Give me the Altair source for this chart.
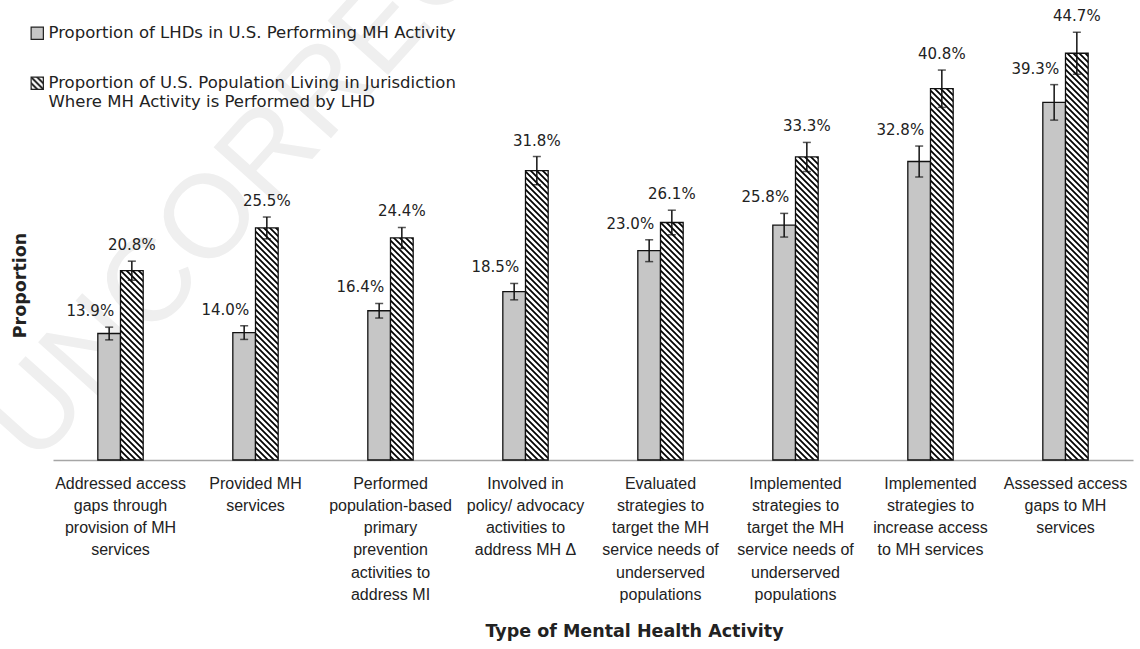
import altair as alt
import pandas as pd
import altair.utils.html as _html

# ---------------- data ----------------
categories = [
    "Addressed access\ngaps through\nprovision of MH\nservices",
    "Provided MH\nservices",
    "Performed\npopulation-based\nprimary\nprevention\nactivities to\naddress MI",
    "Involved in\npolicy/ advocacy\nactivities to\naddress MH Δ",
    "Evaluated\nstrategies to\ntarget the MH\nservice needs of\nunderserved\npopulations",
    "Implemented\nstrategies to\ntarget the MH\nservice needs of\nunderserved\npopulations",
    "Implemented\nstrategies to\nincrease access\nto MH services",
    "Assessed access\ngaps to MH\nservices",
]
series = [
    "Proportion of LHDs in U.S. Performing MH Activity",
    "Proportion of U.S. Population Living in Jurisdiction\nWhere MH Activity is Performed by LHD",
]
lhd_values = [13.9, 14.0, 16.4, 18.5, 23.0, 25.8, 32.8, 39.3]
lhd_errors = [0.7, 0.75, 0.8, 0.9, 1.2, 1.3, 1.7, 1.95]
pop_values = [20.8, 25.5, 24.4, 31.8, 26.1, 33.3, 40.8, 44.7]
pop_errors = [1.05, 1.2, 1.15, 1.55, 1.35, 1.6, 2.05, 2.3]
watermark = ["UNCORRECTED PROOF"]

rows = []
for s, vals, errs in [(series[0], lhd_values, lhd_errors), (series[1], pop_values, pop_errors)]:
    for c, v, e in zip(categories, vals, errs):
        rows.append({"category": c, "series": s, "value": v, "lo": v - e, "hi": v + e,
                     "label": f"{v:.1f}%"})
df = pd.DataFrame(rows)

# ---------------- hatch pattern (SVG defs injected into the page) ----------------
DEFS = ('<svg width="0" height="0" style="position:absolute;width:0;height:0" aria-hidden="true">'
        '<defs><pattern id="hatch" patternUnits="userSpaceOnUse" width="6" height="6">'
        '<rect x="0" y="0" width="6" height="6" fill="#ffffff"/>'
        '<path d="M-1,-1 L7,7 M-1,5 L1,7 M5,-1 L7,1" stroke="#000000" stroke-width="1.7"/>'
        '</pattern></defs></svg>')
try:
    _std = _html.TEMPLATES["standard"]
    _orig_render = _std.render

    def _render(*a, **k):
        s = _orig_render(*a, **k)
        if "<body>" in s:
            return s.replace("<body>", "<body>\n" + DEFS, 1)
        return DEFS + s

    _std.render = _render
except Exception:
    pass

TXT = "#222222"
YS = alt.Scale(domain=[0, 50])

x_enc = alt.X(
    "category:N", sort=categories,
    scale=alt.Scale(paddingInner=0.664, paddingOuter=0.332),
    axis=alt.Axis(
        title="Type of Mental Health Activity", labelAngle=0, ticks=False, grid=False,
        domainColor="#a6a6a6", domainWidth=1.5,
        labelFont="Liberation Sans", labelFontSize=16, labelColor=TXT,
        labelLineHeight=22.3, labelBaseline="top", labelPadding=15, labelLimit=300,
        labelExpr="split(datum.label, '\\n')",
        titleFont="DejaVu Sans", titleFontSize=17.5, titleFontWeight="bold", titleColor=TXT,
        titleX=581, titleY=171, titleBaseline="middle", titleAlign="center",
    ),
)
xo_enc = alt.XOffset("series:N", sort=series, scale=alt.Scale(paddingInner=0, paddingOuter=0))
y_enc = alt.Y(
    "value:Q", scale=YS,
    axis=alt.Axis(
        title="Proportion", labels=False, ticks=False, domain=False, grid=False,
        titleFont="DejaVu Sans", titleFontSize=17.5, titleFontWeight="bold", titleColor=TXT,
        titleX=-33, titleY=280, titleAngle=270, titleAlign="center", titleBaseline="middle",
    ),
)

base = alt.Chart(df)

wm = alt.Chart(pd.DataFrame({"t": watermark})).mark_text(
    angle=312, align="left", baseline="alphabetic", font="Liberation Sans",
    fontSize=118, color="#efefef",
).encode(x=alt.value(-18), y=alt.value(462), text="t:N")

bars = base.mark_bar(stroke="#111111", strokeWidth=1.3).encode(
    x=x_enc, xOffset=xo_enc, y=y_enc,
    color=alt.Color(
        "series:N",
        scale=alt.Scale(domain=series, range=["#c6c6c6", "url(#hatch)"]),
        legend=alt.Legend(
            title=None, orient="none", legendX=-24, legendY=20, direction="vertical",
            symbolType="square", symbolSize=150, symbolStrokeColor="#222222",
            symbolStrokeWidth=1.2, symbolOpacity=1,
            labelFont="DejaVu Sans", labelFontSize=16.5, labelColor=TXT, labelLimit=800,
            labelOffset=3, rowPadding=32,
            labelExpr="split(datum.label, '\\n')",
        ),
    ),
)

rule = base.mark_rule(color="#111111", strokeWidth=1.5).encode(
    x=x_enc, xOffset=xo_enc, y=alt.Y("lo:Q", scale=YS), y2="hi:Q"
)
cap_hi = base.mark_tick(color="#111111", thickness=1.5, size=8, orient="horizontal").encode(
    x=x_enc, xOffset=xo_enc, y=alt.Y("hi:Q", scale=YS)
)
cap_lo = base.mark_tick(color="#111111", thickness=1.5, size=8, orient="horizontal").encode(
    x=x_enc, xOffset=xo_enc, y=alt.Y("lo:Q", scale=YS)
)

lab_lhd = base.transform_filter(alt.datum.series == series[0]).mark_text(
    align="right", baseline="bottom", dx=5, dy=-8, font="DejaVu Sans", fontSize=15, color=TXT
).encode(x=x_enc, xOffset=xo_enc, y=alt.Y("hi:Q", scale=YS), text="label:N")
lab_pop = base.transform_filter(alt.datum.series == series[1]).mark_text(
    align="center", baseline="bottom", dy=-8, font="DejaVu Sans", fontSize=15, color=TXT
).encode(x=x_enc, xOffset=xo_enc, y=alt.Y("hi:Q", scale=YS), text="label:N")

chart = alt.layer(wm, bars, rule, cap_hi, cap_lo, lab_lhd, lab_pop).properties(
    width=1080, height=455,
    padding={"left": 53, "top": 5, "right": 7, "bottom": 189},
    autosize=alt.AutoSizeParams(type="none"),
    background="white",
).configure_view(stroke=None)

chart.save("out.html", embed_options={"renderer": "svg", "actions": False})
